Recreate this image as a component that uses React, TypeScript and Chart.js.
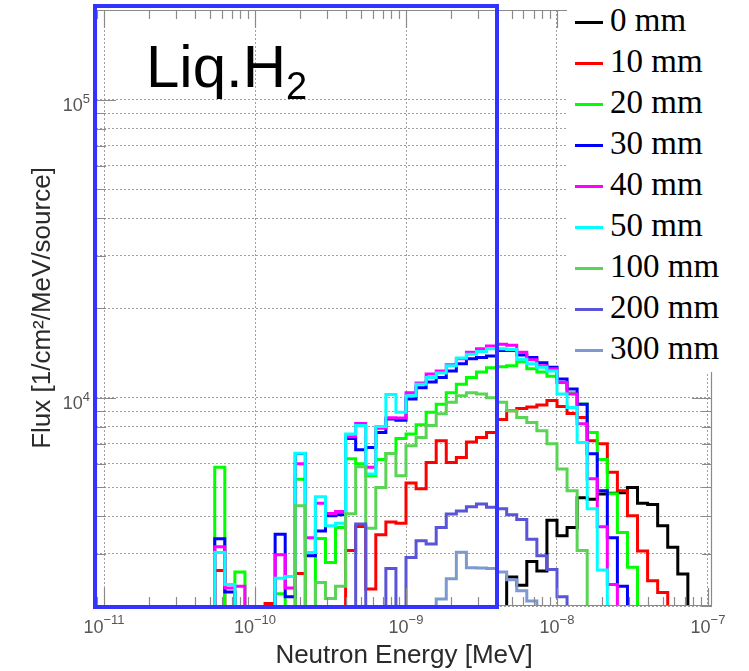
import React, { useEffect, useRef } from 'react';
import { Chart, registerables } from 'chart.js';

Chart.register(...registerables);

// ---- Series definitions ----
const SERIES_LABELS = ['0 mm', '10 mm', '20 mm', '30 mm', '40 mm', '50 mm', '100 mm', '200 mm', '300 mm'];
const SERIES_COLORS = ['#000000', '#ff0000', '#00ff00', '#0000ff', '#ff00ff', '#00ffff', '#59d454', '#5954d8', '#7d99d1'];

// Histogram binning: 60 log-spaced bins, 15 per decade, 1e-11 .. 1e-7 MeV
const LOG_E_FIRST = -11;
const LOG_E_LAST = -7;
const BINS_PER_DECADE = 15;

// Flux per bin [1/cm2/MeV/source] (0 = empty / below axis)
const flux0mm = [
  0, 0, 0, 0, 0, 0, 0, 0, 0, 0,
  0, 0, 0, 0, 0, 0, 0, 0, 0, 0,
  0, 0, 0, 0, 0, 0, 0, 0, 0, 0,
  0, 0, 0, 0, 0, 0, 0, 0, 0, 0,
  2500, 2350, 2820, 2620, 3880, 3440, 3670, 4620, 4560, 4750,
  4780, 4800, 5000, 4420, 4380, 3720, 3150, 2560, 0, 0,
];
const flux10mm = [
  0, 0, 0, 0, 0, 0, 0, 0, 0, 0,
  0, 2630, 0, 0, 0, 0, 2040, 0, 0, 2570,
  0, 0, 0, 0, 3070, 3700, 2280, 3470, 3830, 3790,
  5170, 4950, 6060, 7170, 6060, 6300, 7100, 7360, 7650, 8450,
  9040, 9200, 9300, 9450, 9780, 9350, 8850, 8580, 7170, 7000,
  5620, 4870, 4020, 3060, 2430, 2220, 0, 0, 0, 0,
];
const flux20mm = [
  0, 0, 0, 0, 0, 0, 0, 0, 0, 0,
  0, 5840, 0, 2600, 0, 0, 0, 2200, 0, 5330,
  0, 3370, 2800, 3670, 6240, 6000, 5470, 6200, 6500, 7300,
  7550, 8120, 8930, 9500, 10400, 11100, 11700, 12200, 12600, 12700,
  12800, 13200, 12500, 12200, 11800, 11250, 10400, 9530, 7650, 6200,
  4760, 3530, 2700, 0, 0, 0, 0, 0, 0, 0,
];
const flux30mm = [
  0, 0, 0, 0, 0, 0, 0, 0, 0, 0,
  0, 3365, 2230, 0, 0, 0, 0, 3480, 2150, 6500,
  2950, 3570, 4020, 4050, 7290, 6690, 6810, 7650, 8480, 8400,
  9900, 10800, 11300, 11700, 12300, 13000, 13500, 13650, 13800, 14400,
  14400, 13900, 13650, 13100, 12650, 11550, 10700, 9500, 6490, 4870,
  3390, 2330, 0, 0, 0, 0, 0, 0, 0, 0,
];
const flux40mm = [
  0, 0, 0, 0, 0, 0, 0, 0, 0, 0,
  0, 3160, 2300, 2330, 0, 0, 0, 2970, 2300, 6000,
  3390, 4420, 4090, 4150, 7400, 8200, 5840, 7900, 8560, 8550,
  10400, 11200, 12000, 12300, 12900, 13500, 14200, 14600, 14900, 15100,
  15000, 14200, 13400, 12800, 12500, 11250, 10300, 8180, 5350, 3690,
  2360, 0, 0, 0, 0, 0, 0, 0, 0, 0,
];
const flux50mm = [
  0, 0, 0, 0, 0, 0, 0, 0, 0, 0,
  0, 3025, 2360, 0, 0, 0, 0, 2480, 2510, 6510,
  3025, 4650, 3720, 3790, 7550, 8060, 5550, 8000, 10250, 8930,
  10150, 11100, 11700, 12100, 12800, 13600, 14000, 14300, 14600, 14600,
  14500, 13450, 13000, 12650, 12300, 10300, 9280, 7080, 4240, 2640,
  0, 0, 0, 0, 0, 0, 0, 0, 0, 0,
];
const flux100mm = [
  0, 0, 0, 0, 0, 0, 0, 0, 0, 0,
  0, 0, 0, 0, 0, 0, 0, 0, 0, 4340,
  0, 2400, 2120, 2330, 4080, 5870, 3650, 5000, 6500, 5470,
  6900, 7360, 8060, 8830, 9650, 10150, 10400, 10300, 10000, 9650,
  9040, 8580, 8260, 7750, 7000, 5770, 4870, 3070, 0, 0,
  0, 0, 0, 0, 0, 0, 0, 0, 0, 0,
];
const flux200mm = [
  0, 0, 0, 0, 0, 0, 0, 0, 0, 0,
  0, 0, 0, 0, 0, 0, 0, 0, 0, 0,
  0, 0, 0, 0, 0, 3770, 0, 0, 2670, 0,
  2910, 3310, 3230, 3670, 4070, 4170, 4310, 4400, 4290, 4240,
  4050, 3900, 3350, 2950, 2650, 2150, 0, 0, 0, 0,
  0, 0, 0, 0, 0, 0, 0, 0, 0, 0,
];
const flux300mm = [
  0, 0, 0, 0, 0, 0, 0, 0, 0, 0,
  0, 0, 0, 0, 0, 0, 0, 0, 0, 0,
  0, 0, 0, 0, 0, 0, 0, 0, 0, 0,
  0, 0, 0, 2110, 2470, 3030, 2690, 2680, 2670, 2600,
  2450, 2250, 2080, 0, 0, 0, 0, 0, 0, 0,
  0, 0, 0, 0, 0, 0, 0, 0, 0, 0,
];
const SERIES_VALUES = [flux0mm, flux10mm, flux20mm, flux30mm, flux40mm, flux50mm, flux100mm, flux200mm, flux300mm];

// Axes
const X_MIN = 8.85e-12;
const X_MAX = 1.063e-7;
const Y_MIN = 2000;
const Y_MAX = 200000;
const X_TICK_VALUES = [1e-11, 1e-10, 1e-9, 1e-8, 1e-7];
const X_TICK_EXPONENTS = ['\u221211', '\u221210', '\u22129', '\u22128', '\u22127'];
const Y_TICK_VALUES = [1e4, 1e5];
const Y_TICK_EXPONENTS = ['4', '5'];
const TICK_BASE = '10';
const X_TITLE = 'Neutron Energy [MeV]';
const Y_TITLE = 'Flux [1/cm\u00B2/MeV/source]';
const OVERLAY_TITLE = 'Liq.H';
const OVERLAY_SUB = '2';

const SANS = "'Liberation Sans', Arial, Helvetica, sans-serif";
const SERIF = "'Liberation Serif', 'Times New Roman', serif";

const binEdges: number[] = [];
{
  const n = (LOG_E_LAST - LOG_E_FIRST) * BINS_PER_DECADE;
  for (let k = 0; k <= n; k++) binEdges.push(Math.pow(10, LOG_E_FIRST + k / BINS_PER_DECADE));
}

const BELOW_AXIS = Y_MIN / 2;

function toStepPoints(vals: number[]) {
  const pts = vals.map((v, k) => ({ x: binEdges[k], y: v > 0 ? v : BELOW_AXIS }));
  pts.push({ x: binEdges[vals.length], y: BELOW_AXIS });
  return pts;
}

function logGridValues(min: number, max: number) {
  const out: number[] = [];
  const e0 = Math.floor(Math.log10(min)) - 1;
  const e1 = Math.ceil(Math.log10(max)) + 1;
  for (let e = e0; e <= e1; e++) {
    for (let m = 1; m <= 9; m++) {
      const v = m * Math.pow(10, e);
      if (v >= min * 0.9999 && v <= max * 1.0001) out.push(v);
    }
  }
  return out;
}

function isDecade(v: number) {
  const l = Math.log10(v);
  return Math.abs(l - Math.round(l)) < 1e-6;
}

const BASE_FONT = `18px ${SANS}`;
const EXP_FONT = `13px ${SANS}`;

const frameTicksPlugin = {
  id: 'frameTicks',
  afterDatasetsDraw(chart: any) {
    const { ctx, chartArea } = chart;
    const { left, right, top, bottom } = chartArea;
    const xs = chart.scales.x;
    const ys = chart.scales.y;
    ctx.save();
    ctx.strokeStyle = '#8a8a8a';
    ctx.lineWidth = 1.2;
    ctx.beginPath();
    ctx.rect(left + 0.5, top + 0.5, right - left - 1, bottom - top - 1);
    ctx.stroke();
    ctx.beginPath();
    for (const v of logGridValues(xs.min, xs.max)) {
      const px = Math.round(xs.getPixelForValue(v)) + 0.5;
      const len = isDecade(v) ? 18 : 9;
      ctx.moveTo(px, bottom);
      ctx.lineTo(px, bottom - len);
      ctx.moveTo(px, top);
      ctx.lineTo(px, top + len);
    }
    for (const v of logGridValues(ys.min, ys.max)) {
      const py = Math.round(ys.getPixelForValue(v)) + 0.5;
      const len = isDecade(v) ? 20 : 10;
      ctx.moveTo(left, py);
      ctx.lineTo(left + len, py);
      ctx.moveTo(right, py);
      ctx.lineTo(right - len, py);
    }
    ctx.stroke();

    // tick labels: "10" with a raised exponent
    ctx.fillStyle = '#555555';
    ctx.textBaseline = 'alphabetic';
    ctx.textAlign = 'left';
    X_TICK_VALUES.forEach((v, i) => {
      const px = xs.getPixelForValue(v);
      ctx.font = BASE_FONT;
      const w1 = ctx.measureText(TICK_BASE).width;
      ctx.font = EXP_FONT;
      const w2 = ctx.measureText(X_TICK_EXPONENTS[i]).width;
      const x0 = px - (w1 + w2) / 2;
      const base = bottom + 27;
      ctx.font = BASE_FONT;
      ctx.fillText(TICK_BASE, x0, base);
      ctx.font = EXP_FONT;
      ctx.fillText(X_TICK_EXPONENTS[i], x0 + w1, base - 9);
    });
    Y_TICK_VALUES.forEach((v, i) => {
      const py = ys.getPixelForValue(v);
      ctx.font = BASE_FONT;
      const w1 = ctx.measureText(TICK_BASE).width;
      ctx.font = EXP_FONT;
      const w2 = ctx.measureText(Y_TICK_EXPONENTS[i]).width;
      const x0 = left - 6 - (w1 + w2);
      const base = py + 11;
      ctx.font = BASE_FONT;
      ctx.fillText(TICK_BASE, x0, base);
      ctx.font = EXP_FONT;
      ctx.fillText(Y_TICK_EXPONENTS[i], x0 + w1, base - 8);
    });
    ctx.restore();
  },
};

export default function App() {
  const canvasRef = useRef<HTMLCanvasElement | null>(null);

  useEffect(() => {
    document.body.style.margin = '0';
    const canvas = canvasRef.current;
    if (!canvas) return;
    Chart.defaults.font.family = SANS;

    const datasets = SERIES_VALUES.map((vals, i) => ({
      label: SERIES_LABELS[i],
      data: toStepPoints(vals),
      borderColor: SERIES_COLORS[i],
      backgroundColor: SERIES_COLORS[i],
      borderWidth: 3,
      stepped: true,
      pointRadius: 0,
      fill: false,
      order: -i,
    }));

    const chart = new Chart(canvas, {
      type: 'line',
      data: { datasets },
      options: {
        animation: false,
        responsive: false,
        events: [],
        layout: { padding: { top: 10, right: 37, left: 0, bottom: 0 } },
        plugins: { legend: { display: false }, tooltip: { enabled: false }, title: { display: false } },
        scales: {
          x: {
            type: 'logarithmic',
            min: X_MIN,
            max: X_MAX,
            afterBuildTicks: (s: any) => {
              s.ticks = X_TICK_VALUES.map((v) => ({ value: v }));
            },
            afterFit: (s: any) => {
              s.height = 65;
              s.paddingLeft = 0;
              s.paddingRight = 0;
            },
            ticks: { display: false, autoSkip: false },
            grid: { color: '#a0a0a0', lineWidth: 1, drawTicks: false },
            border: { display: false, dash: [2, 2] },
            title: {
              display: true,
              text: X_TITLE,
              color: '#2a2a2a',
              font: { family: SANS, size: 26 },
              padding: { top: 0, bottom: 0 },
            },
          },
          y: {
            type: 'logarithmic',
            min: Y_MIN,
            max: Y_MAX,
            afterBuildTicks: (s: any) => {
              s.ticks = logGridValues(Y_MIN, Y_MAX).map((v) => ({ value: v }));
            },
            afterFit: (s: any) => {
              s.width = 96;
              s.paddingTop = 0;
              s.paddingBottom = 0;
            },
            ticks: { display: false, autoSkip: false },
            grid: { color: '#a0a0a0', lineWidth: 1, drawTicks: false },
            border: { display: false, dash: [2, 2] },
            title: {
              display: true,
              text: Y_TITLE,
              color: '#2a2a2a',
              font: { family: SANS, size: 26 },
              padding: { top: 27, bottom: 0 },
            },
          },
        },
      },
      plugins: [frameTicksPlugin],
    } as any);

    return () => chart.destroy();
  }, []);

  return (
    <div style={{ position: 'absolute', left: 0, top: 0, width: 749, height: 671, background: '#ffffff', overflow: 'hidden' }}>
      <canvas ref={canvasRef} width={749} height={671} style={{ position: 'absolute', left: 0, top: 0, width: 749, height: 671 }} />
      <div style={{ position: 'absolute', left: 567, top: 0, width: 182, height: 372, background: '#ffffff' }} />
      {SERIES_LABELS.map((lab, i) => (
        <React.Fragment key={lab}>
          <div style={{ position: 'absolute', left: 575, top: 21.2 + 41 * i, width: 28, height: 3, background: SERIES_COLORS[i] }} />
          <div
            style={{
              position: 'absolute',
              left: 610,
              top: 4.1 + 41 * i,
              fontFamily: SERIF,
              fontSize: 33,
              lineHeight: '33px',
              color: '#000000',
              whiteSpace: 'nowrap',
            }}
          >
            {lab}
          </div>
        </React.Fragment>
      ))}
      <div style={{ position: 'absolute', left: 93, top: 4, width: 406, height: 605, border: '4px solid #3333ff', boxSizing: 'border-box' }} />
      <div
        style={{
          position: 'absolute',
          left: 146,
          top: 37,
          fontFamily: SANS,
          fontSize: 60,
          lineHeight: '60px',
          color: '#000000',
          whiteSpace: 'nowrap',
        }}
      >
        {OVERLAY_TITLE}
        <span style={{ fontSize: 38, position: 'relative', top: 12 }}>{OVERLAY_SUB}</span>
      </div>
    </div>
  );
}
